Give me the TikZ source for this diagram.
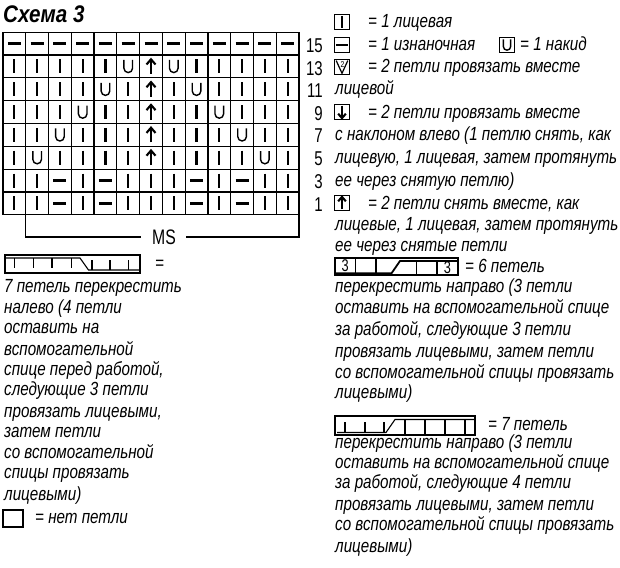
\documentclass[tikz,border=0pt]{standalone}
\usepackage{fontspec}
\setmainfont[FakeStretch=0.8]{Liberation Sans}
\newfontfamily\numfont[FakeStretch=0.75]{Liberation Sans}
\newfontfamily\ttlfont[FakeStretch=0.86]{Liberation Sans}
\begin{document}
\begin{tikzpicture}[x=1pt,y=-1pt,
  txt/.style={anchor=base west,inner sep=0pt,font=\fontsize{19}{19}\selectfont\itshape},
  num/.style={anchor=base east,inner sep=0pt,font=\numfont\fontsize{20}{20}\selectfont},
  ttl/.style={anchor=base west,inner sep=0pt,font=\ttlfont\fontsize{24}{24}\selectfont\bfseries\itshape},
  sym/.style={line width=2.1pt},
  grd/.style={line width=1.2pt},
  lbox/.style={draw,line width=1.1pt,minimum width=15pt,minimum height=15pt,inner sep=0pt},
  cab/.style={line width=1.1pt},
  cabthick/.style={line width=1.8pt},
  digit/.style={inner sep=0pt,font=\numfont\fontsize{17}{17}\selectfont},
  stK/.pic={\draw[sym] (0,-7) -- (0,7);},
  stP/.pic={\draw[sym,line width=2.5pt] (-6.5,0) -- (6.5,0);},
  stY/.pic={\draw[line width=1.4pt] (-4.3,-6.5) -- (-4.3,1.8) arc(180:0:4.3) -- (4.3,-6.5);},
  stA/.pic={\draw[sym] (0,7.5) -- (0,-6.5); \draw[sym,line join=miter] (-4.5,-2) -- (0,-7.2) -- (4.5,-2);},
  stD/.pic={\draw[sym] (0,-7.5) -- (0,6.5); \draw[sym,line join=miter] (-4.5,2) -- (0,7.2) -- (4.5,2);},
  stV/.pic={\draw[line width=1.2pt,line join=miter] (-5.8,-6.4) -- (0,6.3) -- (5.8,-6.4);
            \node[inner sep=0pt,font=\fontsize{8.5}{8.5}\selectfont] at (0.6,-2.4) {2};}
]
\useasboundingbox (0,0) rectangle (620,567);

% title
\node[ttl] (title) at (3,22.5) {Схема 3};

% grid
\foreach \i in {0,...,13} \draw[grd] ({3+\i*22.77},32.3) -- ({3+\i*22.77},214.7);
\foreach \j in {0,...,8} \draw[grd] (3,{32.3+\j*22.8}) -- (299,{32.3+\j*22.8});

\foreach [count=\r] \row in {
  {P,P,P,P,P,P,P,P,P,P,P,P,P},
  {K,K,K,K,K,Y,A,Y,K,K,K,K,K},
  {K,K,K,K,Y,K,A,K,Y,K,K,K,K},
  {K,K,K,Y,K,K,A,K,K,Y,K,K,K},
  {K,K,Y,K,K,K,A,K,K,K,Y,K,K},
  {K,Y,K,K,K,K,A,K,K,K,K,Y,K},
  {K,K,P,K,P,K,K,K,P,K,P,K,K},
  {K,K,P,K,P,K,K,K,P,K,P,K,K}}{
  \foreach [count=\c] \s in \row {
    \pgfmathsetmacro\px{3+(\c-0.5)*22.77}
    \pgfmathsetmacro\py{32.3+(\r-0.5)*22.8}
    \edef\doit{\noexpand\pic at (\px,\py) {st\s};}\doit
  }
}

% row numbers
\node[num] (n15) at (323,53) {15};
\node[num] (n13) at (323,75.5) {13};
\node[num] (n11) at (323,97.5) {11};
\node[num] (n9) at (323,120) {9};
\node[num] (n7) at (323,142.5) {7};
\node[num] (n5) at (323,165.5) {5};
\node[num] (n3) at (323,188.5) {3};
\node[num] (n1) at (323,211.5) {1};

% MS bracket
\node[inner sep=0pt,font=\numfont\fontsize{21}{21}\selectfont] (ms) at (164,237) {MS};
\coordinate (msl) at (25.8,214.7);
\coordinate (msr) at (299,214.7);
\coordinate (msla) at (141,237);
\coordinate (msra) at (186,237);
\draw[grd] (msl) |- (msla);
\draw[grd] (msr) |- (msra);

% right legend
\node[lbox] (bK) at (342,22) {};
\pic[scale=0.85] at (bK) {stK};
\node[txt] (t1) at (368,28) {= 1 лицевая};

\node[lbox] (bP) at (342,45) {};
\pic[scale=0.85] at (bP) {stP};
\node[txt] (t2) at (368,51) {= 1 изнаночная};
\node[lbox] (bY) at (507,45) {};
\pic[scale=0.85] at (bY) {stY};
\node[txt] (t2b) at (520,51) {= 1 накид};

\node[lbox] (bV) at (342,67) {};
\pic at (bV) {stV};
\node[txt] (t3) at (368,73) {= 2 петли провязать вместе};
\node[txt] (t4) at (335,95) {лицевой};

\node[lbox] (bD) at (342,112) {};
\pic[scale=0.85] at (bD) {stD};
\node[txt] (t5) at (368,118) {= 2 петли провязать вместе};
\node[txt] (t6) at (335,140) {с наклоном влево (1 петлю снять, как};
\node[txt] (t7) at (335,163) {лицевую, 1 лицевая, затем протянуть};
\node[txt] (t8) at (335,186) {ее через снятую петлю)};

\node[lbox] (bA) at (342,203) {};
\pic[scale=0.85] at (bA) {stA};
\node[txt] (t9) at (368,209) {= 2 петли снять вместе, как};
\node[txt] (t10) at (335,230) {лицевые, 1 лицевая, затем протянуть};
\node[txt] (t11) at (335,251) {ее через снятые петли};

% 6-stitch cable
\draw[cab] (335,258) rectangle (458,275);
\draw[cab] (355.5,258) -- (355.5,273) (376,258) -- (376,273);
\draw[cab] (416.5,261) -- (416.5,275) (437,261) -- (437,275);
\draw[cabthick] (335,273.3) -- (391.5,273.3) -- (400,261) -- (458,261);
\node[digit] (c6a) at (345.2,265.5) {3};
\node[digit] (c6b) at (447.5,268) {3};
\node[txt] (t12) at (465,272) {= 6 петель};

\node[txt] (t13) at (335,292) {перекрестить направо (3 петли};
\node[txt] (t14) at (335,313) {оставить на вспомогательной спице};
\node[txt] (t15) at (335,335) {за работой, следующие 3 петли};
\node[txt] (t16) at (335,357) {провязать лицевыми, затем петли};
\node[txt] (t17) at (335,378) {со вспомогательной спицы провязать};
\node[txt] (t18) at (335,398) {лицевыми)};

% 7-stitch cable right
\draw[cab] (335,416) rectangle (475,435);
\draw[cab] (337,432.5) -- (386,432.5) -- (395,419.5) -- (475,419.5);
\foreach \xx in {345,365,384} \draw[cab] (\xx,422) -- (\xx,432.5);
\foreach \xx in {405,425,445,465} \draw[cab] (\xx,419.5) -- (\xx,435);
\node[txt] (t19) at (488,430.5) {= 7 петель};

\node[txt] (t20) at (335,448) {перекрестить направо (3 петли};
\node[txt] (t21) at (335,468) {оставить на вспомогательной спице};
\node[txt] (t22) at (335,488) {за работой, следующие 4 петли};
\node[txt] (t23) at (335,510) {провязать лицевыми, затем петли};
\node[txt] (t24) at (335,530) {со вспомогательной спицы провязать};
\node[txt] (t25) at (335,552) {лицевыми)};

% left legend: 7-stitch cable left
\draw[cab] (5,255) rectangle (140,273);
\draw[cab] (5,258) -- (80,258) -- (88.5,270) -- (140,270);
\foreach \xx in {14.7,33.3,52,71.5} \draw[cab] (\xx,258) -- (\xx,268);
\foreach \xx in {92,110,128.5} \draw[cab] (\xx,260) -- (\xx,270);
\node[txt] (l0) at (155,269) {=};

\node[txt] (l1) at (4,292) {7 петель перекрестить};
\node[txt] (l2) at (4,313) {налево (4 петли};
\node[txt] (l3) at (4,333) {оставить на};
\node[txt] (l4) at (4,355) {вспомогательной};
\node[txt] (l5) at (4,375) {спице перед работой,};
\node[txt] (l6) at (4,395) {следующие 3 петли};
\node[txt] (l7) at (4,417) {провязать лицевыми,};
\node[txt] (l8) at (4,437) {затем петли};
\node[txt] (l9) at (4,458) {со вспомогательной};
\node[txt] (l10) at (4,478) {спицы провязать};
\node[txt] (l11) at (4,500) {лицевыми)};

\node[draw,line width=1.1pt,minimum width=20pt,minimum height=17pt,inner sep=0pt] (bE) at (13,518.5) {};
\node[txt] (l12) at (35,523) {= нет петли};
\end{tikzpicture}
\end{document}
